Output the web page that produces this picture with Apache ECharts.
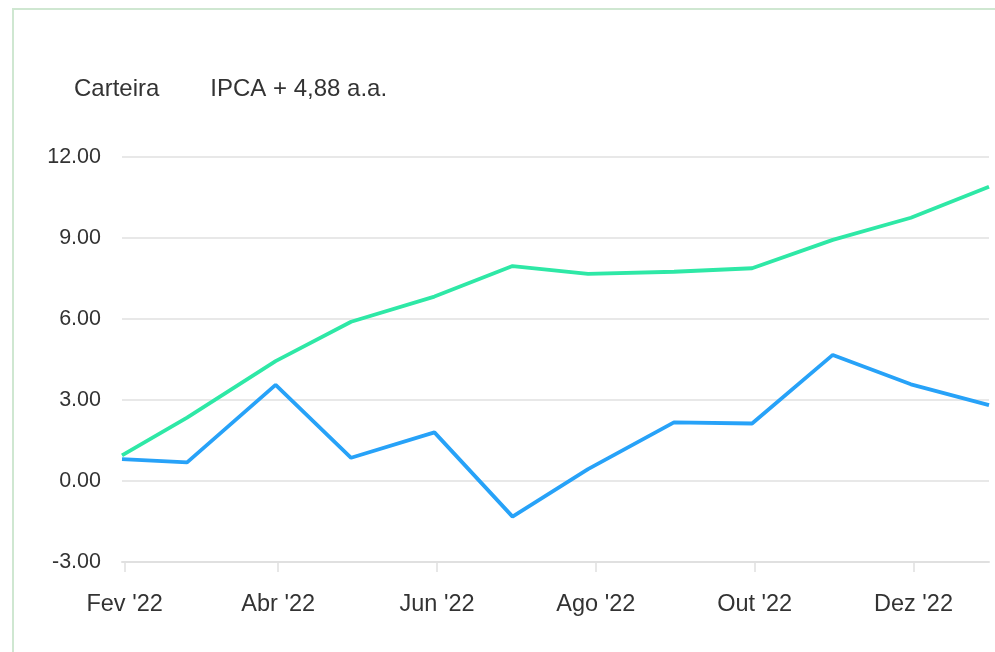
<!DOCTYPE html>
<html>
<head>
<meta charset="utf-8">
<script src="https://cdn.jsdelivr.net/npm/echarts@6/dist/echarts.min.js"></script>
<style>
html,body{margin:0;padding:0;background:#fff;width:995px;height:652px;overflow:hidden;position:relative;}
#frame{position:absolute;left:12px;top:8px;width:1200px;height:800px;border-left:2px solid #cfe7d1;border-top:2px solid #cfe7d1;box-sizing:border-box;}
#chart{position:absolute;left:0;top:0;width:995px;height:652px;}
</style>
</head>
<body>
<div id="frame"></div>
<div id="chart"></div>
<script>
// Data (month-end dates)
const dates = ['2022-01-31','2022-02-25','2022-03-31','2022-04-29','2022-05-31','2022-06-30',
               '2022-07-29','2022-08-31','2022-09-30','2022-10-31','2022-11-30','2022-12-30'];
const carteira = [0.81, 0.69, 3.56, 0.86, 1.80, -1.32, 0.44, 2.17, 2.13, 4.67, 3.58, 2.81];
const ipca = [0.95, 2.35, 4.44, 5.90, 6.83, 7.96, 7.67, 7.75, 7.88, 8.93, 9.75, 10.90];
const seriesNames = ['Carteira', 'IPCA + 4,88 a.a.'];
const tickDates = ['2022-02-01','2022-04-01','2022-06-01','2022-08-01','2022-10-01','2022-12-01'];
const tickLabels = ["Fev '22", "Abr '22", "Jun '22", "Ago '22", "Out '22", "Dez '22"];
const yTicks = [-3, 0, 3, 6, 9, 12];

function parseUTC(s) {
  const p = s.split('-').map(Number);
  return Date.UTC(p[0], p[1] - 1, p[2]);
}
const times = dates.map(parseUTC);
const tickTimes = tickDates.map(parseUTC);
const labelMap = {};
tickTimes.forEach((t, i) => { labelMap[t] = tickLabels[i]; });

const chart = echarts.init(document.getElementById('chart'), null, {renderer: 'canvas'});
chart.setOption({
  animation: false,
  backgroundColor: 'transparent',
  color: ['#27a2f8', '#2ee8a6'],
  legend: {
    data: seriesNames,
    left: 64,
    top: 72,
    icon: 'rect',
    itemWidth: 0,
    itemHeight: 0,
    itemGap: 46,
    textStyle: {fontSize: 24, color: '#333', fontFamily: 'Liberation Sans, Arial, sans-serif'}
  },
  grid: {left: 122, right: 6, top: 157, bottom: 90, containLabel: false},
  xAxis: {
    type: 'value',
    min: times[0],
    max: times[times.length - 1],
    axisLine: {show: true, onZero: false, lineStyle: {color: '#e0e0e0', width: 2}},
    axisTick: {show: true, length: 10, lineStyle: {color: '#e0e0e0', width: 1.5}, customValues: tickTimes},
    splitLine: {show: false},
    axisLabel: {
      customValues: tickTimes,
      margin: 31,
      fontSize: 23.5,
      color: '#333',
      fontFamily: 'Liberation Sans, Arial, sans-serif',
      formatter: function (v) { return labelMap[v] !== undefined ? labelMap[v] : ''; }
    }
  },
  yAxis: {
    type: 'value',
    min: yTicks[0],
    max: yTicks[yTicks.length - 1],
    interval: 3,
    axisLine: {show: false},
    axisTick: {show: false},
    splitLine: {show: true, lineStyle: {color: '#e0e0e0', width: 1.5}},
    axisLabel: {
      margin: 21,
      fontSize: 21.5,
      color: '#333',
      fontFamily: 'Liberation Sans, Arial, sans-serif',
      formatter: function (v) { return v.toFixed(2); }
    }
  },
  series: [
    {
      name: seriesNames[0],
      type: 'line',
      showSymbol: false,
      symbol: 'none',
      lineStyle: {width: 3.8},
      data: times.map((t, i) => [t, carteira[i]])
    },
    {
      name: seriesNames[1],
      type: 'line',
      showSymbol: false,
      symbol: 'none',
      lineStyle: {width: 3.8},
      data: times.map((t, i) => [t, ipca[i]])
    }
  ]
});
</script>
</body>
</html>
